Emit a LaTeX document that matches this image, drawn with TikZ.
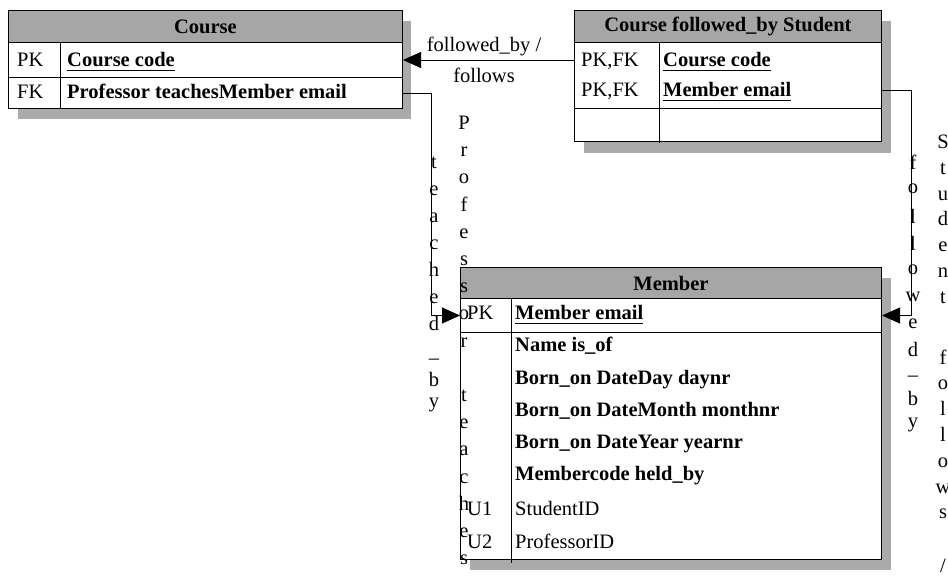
\documentclass[tikz,border=0pt]{standalone}
\usepackage{fontspec}
\setmainfont{Liberation Serif}
\usetikzlibrary{arrows.meta}
\definecolor{hdrgray}{RGB}{166,166,166}
\definecolor{shdgray}{RGB}{170,170,170}
\newcommand{\myul}[1]{\setbox0\hbox{#1}\rlap{\rule[-4pt]{\wd0}{1pt}}\box0}
\begin{document}
\begin{tikzpicture}[x=1pt,y=-1pt,
  txt/.style={font=\fontsize{20.5}{24}\selectfont, inner sep=0pt},
  bld/.style={font=\fontsize{20.5}{24}\selectfont\bfseries, inner sep=0pt},
  hdrbox/.style={draw=black, line width=1pt, fill=hdrgray, anchor=north west, inner sep=0pt, font=\fontsize{20.5}{24}\selectfont\bfseries},
  rowbox/.style={draw=black, line width=1pt, fill=white, anchor=north west, inner sep=0pt},
  divider/.style={line width=1pt},
  conn/.style={line width=0.9pt},
  arr/.style={conn, -{Triangle[length=18pt,width=16pt]}},
  cell/.style={txt, anchor=base west},
  bcell/.style={bld, anchor=base west},
  vl/.style={txt, anchor=base}
]
\useasboundingbox (0,0) rectangle (948,581);
\fill[white] (0,0) rectangle (948,581);

% shadows
\fill[shdgray] (18,21) rectangle (411,119);
\fill[shdgray] (584,21) rectangle (891,153);
\fill[shdgray] (470,278) rectangle (891,570);

% Course
\node[hdrbox, minimum width=394pt, minimum height=32pt] (cH) at (8,10) {Course};
\node[rowbox, minimum width=394pt, minimum height=35pt] (cPK) at (8,42) {};
\node[rowbox, minimum width=394pt, minimum height=31pt] (cFK) at (8,77) {};
\draw[divider] (60,42) -- (60,108);
\node[cell] (cPKk) at (17,66.5) {PK};
\node[bcell] (cPKa) at (67,66.5) {\myul{Course code}};
\node[cell] (cFKk) at (17,98.5) {FK};
\node[bcell] (cFKa) at (67,98.5) {Professor teachesMember email};

% Course followed_by Student
\node[hdrbox, minimum width=307pt, minimum height=32pt] (fH) at (574,10) {Course followed\_by Student};
\node[rowbox, minimum width=307pt, minimum height=66pt] (fK) at (574,42) {};
\node[rowbox, minimum width=307pt, minimum height=33pt] (fE) at (574,108) {};
\draw[divider] (659,42) -- (659,143);
\node[cell] (fK1) at (581,66.5) {PK,FK};
\node[bcell] (fA1) at (663,66.5) {\myul{Course code}};
\node[cell] (fK2) at (581,96.5) {PK,FK};
\node[bcell] (fA2) at (663,96.5) {\myul{Member email}};

% Member
\node[hdrbox, minimum width=421pt, minimum height=31pt] (mH) at (460,267) {Member};
\node[rowbox, minimum width=421pt, minimum height=34pt] (mPK) at (460,298) {};
\node[rowbox, minimum width=421pt, minimum height=227pt] (mA) at (460,332) {};
\draw[divider] (511,298) -- (511,563);
\node[cell] (mPKk) at (467,319.5) {PK};
\node[bcell] (mPKa) at (515,319.5) {\myul{Member email}};
\node[bcell] (mA1) at (515,351.5) {Name is\_of};
\node[bcell] (mA2) at (515,384.5) {Born\_on DateDay daynr};
\node[bcell] (mA3) at (515,416.5) {Born\_on DateMonth monthnr};
\node[bcell] (mA4) at (515,448.5) {Born\_on DateYear yearnr};
\node[bcell] (mA5) at (515,480.5) {Membercode held\_by};
\node[cell] (mU1k) at (467,515.5) {U1};
\node[cell] (mU1a) at (515,515.5) {StudentID};
\node[cell] (mU2k) at (467,548) {U2};
\node[cell] (mU2a) at (515,548) {ProfessorID};

% connectors
\draw[arr] (fK.west |- cPK.east) -- (cPK.east);
\node[txt] (lf1) at (484,46) {followed\_by /};
\node[txt] (lf2) at (484,75) {follows};
\draw[arr] (cFK.east) -- ++(28,0) |- (mPK.west);
\draw[arr] ([yshift=-15pt]fK.east) -- ++(29,0) |- (mPK.east);

% vertical labels
\foreach \ch/\yy [count=\i] in {t/168.5, e/195.5, a/222.5, c/249.5, h/276.5, e/303.5, d/330, \_/357, b/386, y/407}
  \node[vl] (tb\i) at (434,\yy) {\ch};
\foreach \ch/\yy [count=\i] in {P/129.5, r/156.7, o/183.9, f/211.1, e/238.3, s/265.5, s/292.7, o/319.9, r/347.1, t/401.5, e/428.7, a/455.9, c/483.1, h/510.3, e/537.5, s/564.7}
  \node[vl] (pt\i) at (464,\yy) {\ch};
\foreach \ch/\yy [count=\i] in {f/169, o/193.5, l/223, l/250, o/274.5, w/301.5, e/328.5, d/356, \_/374, b/405, y/427}
  \node[vl] (fb\i) at (913,\yy) {\ch};
\foreach \ch/\yy [count=\i] in {S/148.5, t/174.3, u/200.1, d/225.9, e/251.7, n/277.5, t/303.3, f/364, o/389.8, l/415.6, l/441.4, o/467.2, w/493, s/518.8}
  \node[vl] (sf\i) at (943,\yy) {\ch};
\node[vl] (sfslash) at (943,572) {\slash};
\end{tikzpicture}
\end{document}
